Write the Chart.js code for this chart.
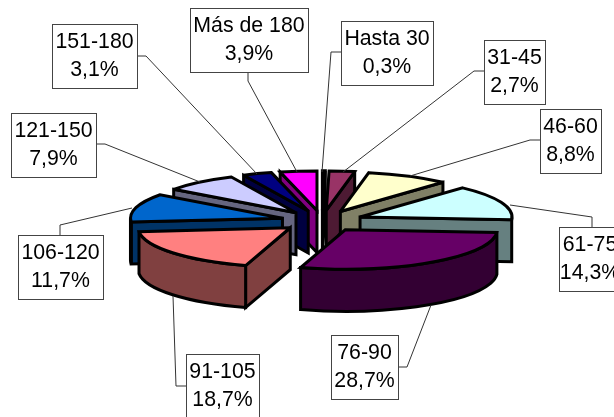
<!DOCTYPE html>
<html>
<head>
<meta charset="utf-8">
<title>Pie</title>
<script src="https://cdn.jsdelivr.net/npm/chart.js@4"></script>
<style>
html, body { margin: 0; padding: 0; background: #fff; overflow: hidden; }
canvas { display: block; }
</style>
</head>
<body>
<canvas id="tiempos" width="614" height="417"></canvas>
<script>
const labels = ['Hasta 30', '31-45', '46-60', '61-75', '76-90', '91-105', '106-120', '121-150', '151-180', 'Más de 180'];
const values = [0.3, 2.7, 8.8, 14.3, 28.7, 18.7, 11.7, 7.9, 3.1, 3.9];
const topColors = ['#9999FF', '#993366', '#FFFFCC', '#CCFFFF', '#660066', '#FF8080', '#0066CC', '#CCCCFF', '#000080', '#FF00FF'];
const wallColors = ['#4D4D80', '#4D1A33', '#808066', '#668080', '#330033', '#804040', '#003366', '#666680', '#000040', '#800080'];

// label boxes [x, y, w, h] and their leader lines, same order as labels
const boxes = [
    [341, 21, 92, 64], [484, 40, 61, 64], [540, 109, 61, 64], [559, 227, 62, 64], [331, 335, 67, 64],
    [186, 354, 73, 64], [18, 235, 85, 64], [11, 113, 85, 64], [52, 24, 85, 64], [190, 8, 118, 64]
];
const leaders = [
    [[341, 52], [331, 52], [322, 172]],
    [[484, 71], [474, 71], [343, 172]],
    [[540, 140], [530, 140], [410, 176]],
    [[592, 227], [592, 217], [510, 205]],
    [[398, 367], [407, 367], [431, 305]],
    [[186, 386], [176, 386], [173, 296]],
    [[60, 235], [60, 225], [132, 208]],
    [[96, 144], [105, 144], [200, 182]],
    [[137, 56], [146, 56], [257, 174]],
    [[248, 72], [248, 81], [297, 172]]
];

// tilted pie: squashed circle, pulled apart slices, extruded walls
const pie3d = { cx: 322, cy: 221, r: 152, squash: 0.26, explode: 41, depth: 42 };

function wall(ctx, p, q, color) {
    const d = pie3d.depth;
    ctx.beginPath();
    ctx.moveTo(p[0], p[1]);
    ctx.lineTo(q[0], q[1]);
    ctx.lineTo(q[0], q[1] + d);
    ctx.lineTo(p[0], p[1] + d);
    ctx.closePath();
    ctx.fillStyle = color;
    ctx.fill();
    ctx.stroke();
}

function drawSlice(ctx, arc, i) {
    const { cx, cy, r, squash, explode, depth } = pie3d;
    const a0 = arc.startAngle;
    const a1 = arc.endAngle;
    const mid = (a0 + a1) / 2;
    const ox = cx + Math.cos(mid) * explode;
    const oy = cy + Math.sin(mid) * explode * squash;
    const ry = r * squash;
    const p0 = [ox + Math.cos(a0) * r, oy + Math.sin(a0) * ry];
    const p1 = [ox + Math.cos(a1) * r, oy + Math.sin(a1) * ry];

    ctx.lineWidth = 3;
    ctx.lineJoin = 'miter';
    ctx.miterLimit = 3;
    ctx.strokeStyle = '#000';

    // only the walls that face the viewer
    if (Math.cos(a0) < 0) wall(ctx, [ox, oy], p0, wallColors[i]);
    if (Math.cos(a1) > 0) wall(ctx, [ox, oy], p1, wallColors[i]);

    // curved wall, front half only (angles normalised to 0..2PI)
    const tau = Math.PI * 2;
    let s = a0, e = a1;
    while (s < 0) { s += tau; e += tau; }
    const from = Math.max(s, 0);
    const to = Math.min(e, Math.PI);
    if (to > from) {
        ctx.beginPath();
        ctx.ellipse(ox, oy, r, ry, 0, from, to);
        ctx.ellipse(ox, oy + depth, r, ry, 0, to, from, true);
        ctx.closePath();
        ctx.fillStyle = wallColors[i];
        ctx.fill();
        ctx.stroke();
    }

    // top face comes from the library's own arc, under the tilt transform
    const k = r / arc.outerRadius;
    ctx.save();
    ctx.translate(ox, oy);
    ctx.scale(k, k * squash);
    ctx.translate(-arc.x, -arc.y);
    arc.draw(ctx);
    ctx.restore();

    ctx.beginPath();
    ctx.moveTo(ox, oy);
    ctx.ellipse(ox, oy, r, ry, 0, a0, a1);
    ctx.closePath();
    ctx.stroke();
}

const tiltedPie = {
    id: 'tiltedPie',
    beforeDatasetDraw(chart) {
        const ctx = chart.ctx;
        const arcs = chart.getDatasetMeta(0).data;
        const order = arcs.map((a, i) => i).sort((m, n) => {
            const sm = Math.sin((arcs[m].startAngle + arcs[m].endAngle) / 2);
            const sn = Math.sin((arcs[n].startAngle + arcs[n].endAngle) / 2);
            return sm - sn;
        });
        ctx.save();
        order.forEach(i => drawSlice(ctx, arcs[i], i));
        ctx.restore();
        return false;
    },
    afterDraw(chart) {
        const ctx = chart.ctx;
        ctx.save();
        ctx.lineWidth = 1;
        ctx.strokeStyle = '#333';
        leaders.forEach(pts => {
            ctx.beginPath();
            pts.forEach((p, n) => n ? ctx.lineTo(p[0], p[1]) : ctx.moveTo(p[0], p[1]));
            ctx.stroke();
        });
        ctx.font = '21.3px "Liberation Sans"';
        ctx.textAlign = 'center';
        ctx.textBaseline = 'middle';
        boxes.forEach((b, i) => {
            ctx.fillStyle = '#fff';
            ctx.fillRect(b[0], b[1], b[2], b[3]);
            ctx.strokeStyle = '#444';
            ctx.strokeRect(b[0] + 0.5, b[1] + 0.5, b[2], b[3]);
            ctx.fillStyle = '#000';
            const mx = b[0] + b[2] / 2;
            const my = b[1] + b[3] / 2;
            ctx.fillText(labels[i], mx, my - 14);
            ctx.fillText(values[i].toFixed(1).replace('.', ',') + '%', mx, my + 14);
        });
        ctx.restore();
    }
};

new Chart(document.getElementById('tiempos'), {
    type: 'pie',
    data: {
        labels: labels,
        datasets: [{
            data: values,
            backgroundColor: topColors,
            borderWidth: 0
        }]
    },
    options: {
        responsive: false,
        animation: false,
        plugins: {
            legend: { display: false },
            tooltip: { enabled: false }
        }
    },
    plugins: [tiltedPie]
});
</script>
</body>
</html>
